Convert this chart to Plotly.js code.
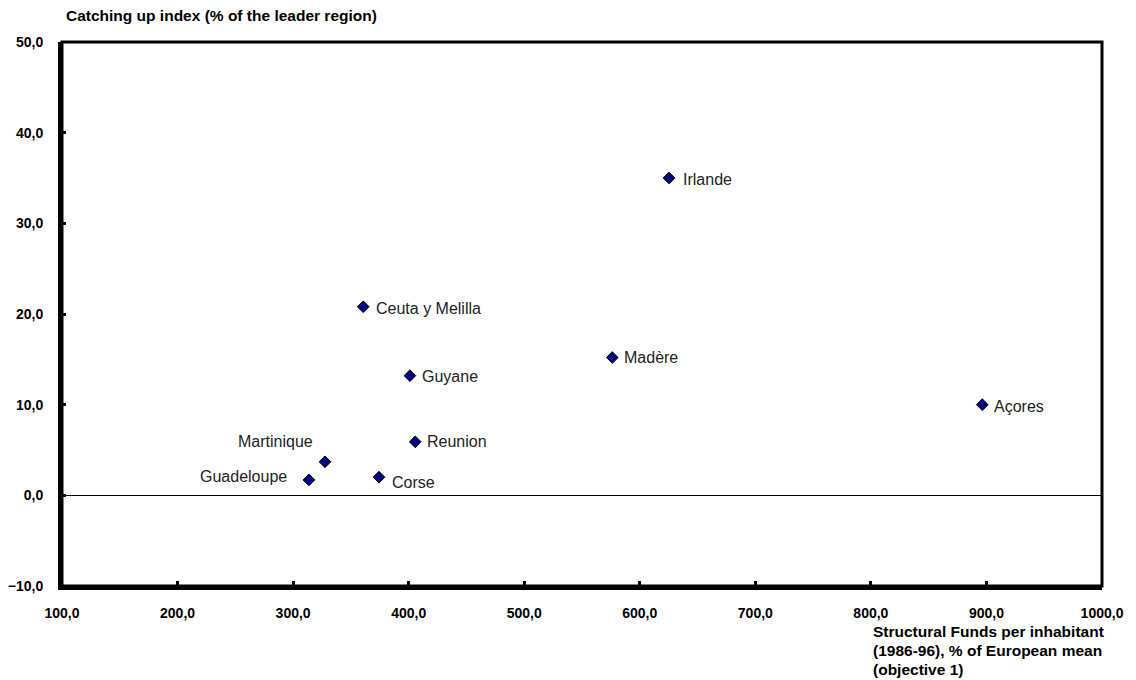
<!DOCTYPE html>
<html>
<head>
<meta charset="utf-8">
<script src="https://cdn.plot.ly/plotly-3.0.1.min.js"></script>
<style>
  body { margin: 0; background: #fff; }
  #chart_div { width: 1136px; height: 680px; }
</style>
</head>
<body>
<div id="chart_div"></div>
<script>
// regions (objective 1)
var regions = ["Irlande", "Ceuta y Melilla", "Madère", "Guyane", "Açores",
               "Reunion", "Martinique", "Guadeloupe", "Corse"];
// structural funds per inhabitant, % of European mean
var funds = [625.3, 360.7, 576.2, 401.1, 896.4, 405.7, 327.6, 313.7, 374.3];
// catching up index, % of leader region
var catchUp = [35.0, 20.8, 15.2, 13.2, 10.0, 5.9, 3.7, 1.7, 2.0];

// label placement (anchor side, pixel shift x, pixel shift y)
var labelSide = ["left", "left", "left", "left", "left", "left", "right", "right", "left"];
var labelDx = [12, 11, 10, 10, 10, 10, -10, -20, 11];
var labelDy = [-1, -2, 0, -1, -2, 0, 20, 3, -5];

var xTicks = [100, 200, 300, 400, 500, 600, 700, 800, 900, 1000];
var yTicks = [-10, 0, 10, 20, 30, 40, 50];

function drawChart() {
    var trace1 = {
        x: funds,
        y: catchUp,
        mode: 'markers',
        marker: {
            symbol: 'diamond',
            size: 9,
            color: '#000080',
            line: {color: 'black', width: 1}
        },
        type: 'scatter',
        showlegend: false,
        cliponaxis: false
    };

    var bold = {family: 'Liberation Sans, Arial, sans-serif', size: 14, color: 'black', weight: 'bold'};
    var titleFont = {family: 'Liberation Sans, Arial, sans-serif', size: 15.5, color: 'black', weight: 'bold'};
    var labelFont = {family: 'Liberation Sans, Arial, sans-serif', size: 16, color: '#222'};

    var annots = [];
    for (var i = 0; i < regions.length; i++) {
        annots.push({
            x: funds[i], y: catchUp[i], text: regions[i],
            xref: 'x', yref: 'y', showarrow: false,
            xanchor: labelSide[i], yanchor: 'middle',
            xshift: labelDx[i], yshift: labelDy[i],
            font: labelFont
        });
    }

    annots.push(
        {text: 'Catching up index (% of the leader region)', xref: 'paper', yref: 'paper',
         x: 0.002, y: 1.048, xanchor: 'left', yanchor: 'middle', showarrow: false,
         font: titleFont},
        {text: 'Structural Funds per inhabitant', xref: 'paper', yref: 'paper',
         x: 0.779, y: -0.0835, xanchor: 'left', yanchor: 'middle', showarrow: false,
         font: titleFont, borderpad: 0},
        {text: '(1986-96), % of European mean', xref: 'paper', yref: 'paper',
         x: 0.779, y: -0.1185, xanchor: 'left', yanchor: 'middle', showarrow: false,
         font: titleFont, borderpad: 0},
        {text: '(objective 1)', xref: 'paper', yref: 'paper',
         x: 0.779, y: -0.1535, xanchor: 'left', yanchor: 'middle', showarrow: false,
         font: titleFont, borderpad: 0}
    );

    var layout = {
        width: 1136,
        height: 680,
        margin: {l: 62, r: 34, t: 42, b: 94},
        paper_bgcolor: 'white',
        plot_bgcolor: 'white',
        separators: ', ',
        xaxis: {
            range: [100, 1000],
            tickvals: xTicks,
            tickformat: '.1f',
            ticks: 'inside',
            ticklen: 5,
            tickwidth: 3,
            tickcolor: 'black',
            showgrid: false,
            zeroline: false,
            showline: true,
            linewidth: 4,
            linecolor: 'black',
            tickfont: bold,
            ticklabelstandoff: 11
        },
        yaxis: {
            range: [-10, 50],
            tickvals: yTicks,
            tickformat: '.1f',
            ticks: 'inside',
            ticklen: 4,
            tickwidth: 3,
            tickcolor: 'black',
            showgrid: false,
            zeroline: true,
            zerolinecolor: 'black',
            zerolinewidth: 1,
            showline: true,
            linewidth: 4,
            linecolor: 'black',
            tickfont: bold,
            ticklabelstandoff: 12
        },
        shapes: [{
            type: 'rect', xref: 'paper', yref: 'paper',
            x0: 0, x1: 1, y0: 0, y1: 1,
            line: {color: 'black', width: 3}
        }],
        annotations: annots
    };

    Plotly.newPlot('chart_div', [trace1], layout, {staticPlot: true});
}

drawChart();
</script>
</body>
</html>
